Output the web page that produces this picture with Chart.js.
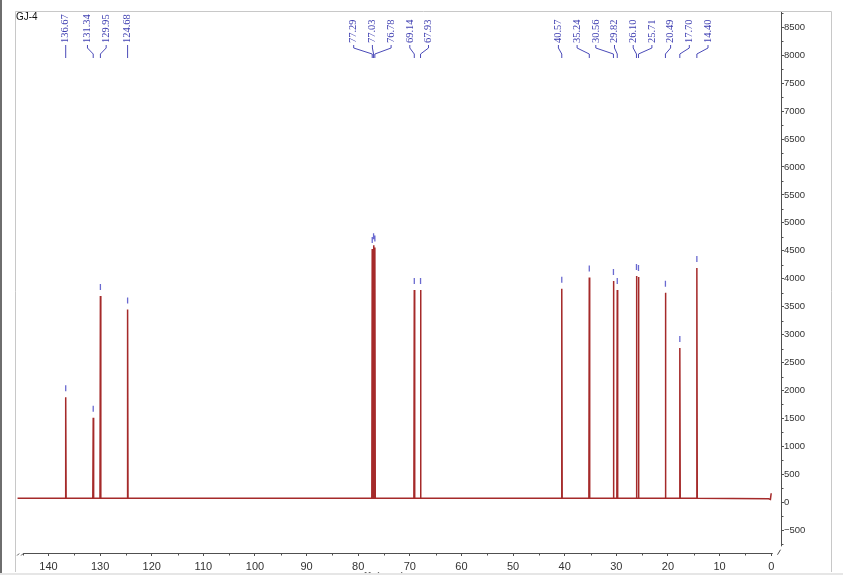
<!DOCTYPE html>
<html>
<head>
<meta charset="utf-8">
<script src="https://cdn.jsdelivr.net/npm/chart.js@4.4.0/dist/chart.umd.min.js"></script>
<style>
  html, body { margin: 0; padding: 0; background: #fff; }
</style>
</head>
<body>
<canvas id="spectrum" width="843" height="575"></canvas>
<script>
// 13C spectrum of GJ-4
const sampleName = 'GJ-4';
const peakShifts = [136.67, 131.34, 129.95, 124.68, 77.29, 77.03, 76.78, 69.14, 67.93,
    40.57, 35.24, 30.56, 29.82, 26.10, 25.71, 20.49, 17.70, 14.40];
const peakHeights = [1880, 1510, 3690, 3450, 4530, 4600, 4560, 3800, 3800,
    3820, 4020, 3960, 3800, 4050, 4030, 3750, 2760, 4190];
const baselineLevel = 70;
const edgeShifts = [146.0, 0.5, 0.15, 0.0];
const edgeLevels = [70, 60, 50, 160];
const xTicks = [0, 10, 20, 30, 40, 50, 60, 70, 80, 90, 100, 110, 120, 130, 140];
const yTicks = [-500, 0, 500, 1000, 1500, 2000, 2500, 3000, 3500, 4000, 4500, 5000,
    5500, 6000, 6500, 7000, 7500, 8000, 8500];
const xRange = [-1.9, 146.3];
const yRange = [-909, 8774];

// build the spectrum trace from the arrays above
function buildTrace() {
    const pts = [{ x: edgeShifts[0], y: edgeLevels[0] }];
    peakShifts.forEach((s, i) => {
        pts.push({ x: s + 0.08, y: baselineLevel });
        pts.push({ x: s, y: peakHeights[i] });
        pts.push({ x: s - 0.08, y: baselineLevel });
    });
    for (let i = 1; i < edgeShifts.length; i++) {
        pts.push({ x: edgeShifts[i], y: edgeLevels[i] });
    }
    return pts;
}

// spread peak labels so they don't overlap, keeping groups centred
function spreadLabels(xs, gap) {
    let groups = xs.map(x => ({ sum: x, n: 1 }));
    const startOf = g => g.sum / g.n - (g.n - 1) * gap / 2;
    let merged = true;
    while (merged) {
        merged = false;
        for (let i = 0; i < groups.length - 1; i++) {
            const a = groups[i], b = groups[i + 1];
            if (startOf(a) + a.n * gap > startOf(b)) {
                groups.splice(i, 2, { sum: a.sum + b.sum, n: a.n + b.n });
                merged = true;
                break;
            }
        }
    }
    const out = [];
    groups.forEach(g => {
        const s = startOf(g);
        for (let k = 0; k < g.n; k++) out.push(s + k * gap);
    });
    return out;
}

// midpoints between major ticks
function minorOf(ticks) {
    const out = [];
    for (let i = 0; i < ticks.length - 1; i++) out.push((ticks[i] + ticks[i + 1]) / 2);
    return out;
}

const framePlugin = {
    id: 'frame',
    beforeDraw(chart) {
        const ctx = chart.ctx;
        ctx.save();
        ctx.fillStyle = '#fff';
        ctx.fillRect(0, 0, chart.width, chart.height);
        ctx.fillStyle = '#6e6e6e';
        ctx.fillRect(0, 0, 2, chart.height);
        ctx.strokeStyle = '#c8c8c8';
        ctx.lineWidth = 1;
        ctx.beginPath();
        ctx.moveTo(15.5, 572);
        ctx.lineTo(15.5, 11.5);
        ctx.lineTo(831.5, 11.5);
        ctx.lineTo(831.5, 572);
        ctx.stroke();
        ctx.restore();
    },
    afterDraw(chart) {
        const ctx = chart.ctx;
        const xs = chart.scales.x, ys = chart.scales.y;
        const area = chart.chartArea;
        ctx.save();

        // axis lines
        ctx.strokeStyle = '#505050';
        ctx.lineWidth = 1;
        const yAxisX = Math.round(area.right) + 0.5;
        const xAxisY = Math.round(area.bottom) + 0.5;
        ctx.beginPath();
        ctx.moveTo(xs.getPixelForValue(144.9), xAxisY);
        ctx.lineTo(xs.getPixelForValue(-0.3), xAxisY);
        ctx.moveTo(yAxisX, area.top);
        ctx.lineTo(yAxisX, ys.getPixelForValue(-790));
        ctx.stroke();

        // break marks
        ctx.beginPath();
        const bx = xs.getPixelForValue(145.5);
        ctx.moveTo(bx - 3, xAxisY + 2); ctx.lineTo(bx - 1, xAxisY);
        ctx.moveTo(bx + 1, xAxisY + 2); ctx.lineTo(bx + 3, xAxisY);
        const by = ys.getPixelForValue(-850);
        ctx.moveTo(yAxisX - 4, by + 5); ctx.lineTo(yAxisX - 1, by);
        ctx.stroke();

        // minor ticks
        ctx.beginPath();
        minorOf(xTicks).concat([145]).forEach(v => {
            const px = Math.round(xs.getPixelForValue(v)) + 0.5;
            ctx.moveTo(px, xAxisY);
            ctx.lineTo(px, xAxisY + 2);
        });
        minorOf(yTicks).concat([-750, 8750]).forEach(v => {
            const py = Math.round(ys.getPixelForValue(v)) + 0.5;
            ctx.moveTo(yAxisX, py);
            ctx.lineTo(yAxisX + 2, py);
        });
        ctx.stroke();

        // peak pick markers
        ctx.strokeStyle = '#6a6ad0';
        ctx.lineWidth = 1.3;
        ctx.beginPath();
        peakShifts.forEach((s, i) => {
            const px = xs.getPixelForValue(s);
            const py = ys.getPixelForValue(peakHeights[i]);
            ctx.moveTo(px, py - 12);
            ctx.lineTo(px, py - 6);
        });
        ctx.stroke();

        // peak labels with connectors
        const peakPx = peakShifts.map(s => xs.getPixelForValue(s));
        const labelPx = spreadLabels(peakPx, 18.7);
        ctx.strokeStyle = '#4a4ab8';
        ctx.lineWidth = 1;
        ctx.beginPath();
        peakPx.forEach((px, i) => {
            const lx = labelPx[i];
            ctx.moveTo(lx, 45);
            ctx.lineTo(lx, 48);
            ctx.lineTo(px, 54);
            ctx.lineTo(px, 58);
        });
        ctx.stroke();
        ctx.fillStyle = '#3c3cb0';
        ctx.font = '10.5px "Liberation Serif", serif';
        ctx.textAlign = 'left';
        ctx.textBaseline = 'middle';
        peakShifts.forEach((s, i) => {
            ctx.save();
            ctx.translate(labelPx[i], 43);
            ctx.rotate(-Math.PI / 2);
            ctx.fillText(s.toFixed(2), 0, 0);
            ctx.restore();
        });

        // sample name
        ctx.fillStyle = '#111';
        ctx.font = '10px "Liberation Sans", sans-serif';
        ctx.textBaseline = 'top';
        ctx.fillText(sampleName, 16, 12);

        // axis title, mostly cut off by the window edge
        ctx.fillStyle = '#555';
        ctx.font = '11px "Liberation Sans", sans-serif';
        ctx.textAlign = 'center';
        ctx.fillText('f1 (ppm)', xs.getPixelForValue(75), 571);

        // bottom strip of the window
        ctx.fillStyle = '#e6e6e6';
        ctx.fillRect(0, 573, chart.width, 2);
        ctx.restore();
    }
};

Chart.defaults.font.family = '"Liberation Sans", Arial, sans-serif';
Chart.defaults.color = '#333';

const chart = new Chart(document.getElementById('spectrum'), {
    type: 'scatter',
    data: {
        datasets: [{
            data: buildTrace(),
            showLine: true,
            borderColor: '#a52a2a',
            borderWidth: 1.5,
            pointRadius: 0,
            tension: 0
        }]
    },
    options: {
        responsive: false,
        devicePixelRatio: 1,
        animation: false,
        layout: { padding: { left: 16, top: 12, right: 0, bottom: 0 } },
        plugins: {
            legend: { display: false },
            tooltip: { enabled: false }
        },
        scales: {
            x: {
                type: 'linear',
                position: 'bottom',
                reverse: true,
                min: xRange[0],
                max: xRange[1],
                border: { display: false },
                grid: { drawOnChartArea: false, drawTicks: true, tickLength: 3, color: '#505050' },
                afterBuildTicks: scale => { scale.ticks = xTicks.map(v => ({ value: v })); },
                ticks: {
                    autoSkip: false,
                    maxRotation: 0,
                    padding: 4,
                    font: { size: 11 },
                    color: '#333',
                    callback: v => String(v)
                },
                afterFit: scale => { scale.height = 22; }
            },
            y: {
                type: 'linear',
                position: 'right',
                min: yRange[0],
                max: yRange[1],
                border: { display: false },
                grid: { drawOnChartArea: false, drawTicks: true, tickLength: 3, color: '#505050' },
                afterBuildTicks: scale => { scale.ticks = yTicks.map(v => ({ value: v })); },
                ticks: {
                    autoSkip: false,
                    padding: 0,
                    font: { size: 9.5 },
                    color: '#333',
                    callback: v => v < 0 ? '\u2212' + Math.abs(v) : String(v)
                },
                afterFit: scale => { scale.width = 62; }
            }
        }
    },
    plugins: [framePlugin]
});
</script>
</body>
</html>
